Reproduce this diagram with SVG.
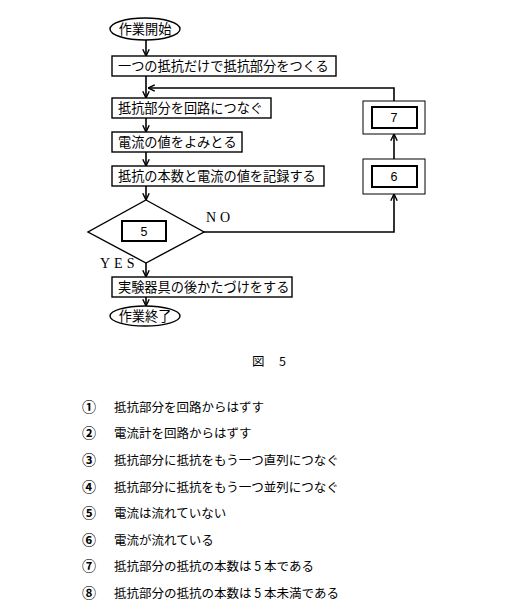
<svg xmlns="http://www.w3.org/2000/svg" width="520" height="613" viewBox="0 0 520 613">
<defs>
<marker id="arr" viewBox="0 0 10 10" refX="9.5" refY="5" markerWidth="8" markerHeight="8" markerUnits="userSpaceOnUse" orient="auto">
<path d="M1,1 L9.5,5 L1,9" fill="none" stroke="#000" stroke-width="1.8"/>
</marker>
</defs>
<style>
.box{fill:#fff;stroke:#000;stroke-width:1.4}
.outer{fill:#fff;stroke:#000;stroke-width:1}
.inner{fill:#fff;stroke:#000;stroke-width:2}
.ln{fill:none;stroke:#000;stroke-width:1.6}
.jp{font-family:"Noto Sans CJK JP","Noto Sans",sans-serif;font-size:13.2px;fill:#000}
.num{font-family:"Liberation Sans",Arial,sans-serif;font-size:12.5px;fill:#000;text-anchor:middle}
.lbl{font-family:"Liberation Serif","Times New Roman",serif;font-size:14px;fill:#000;letter-spacing:4px}
.li{font-family:"Noto Sans CJK JP","Noto Sans",sans-serif;font-size:12.5px;fill:#000}
.cn{font-family:"Noto Sans CJK JP","Noto Sans",sans-serif;font-size:14px;font-weight:bold;fill:#000}
</style>
<rect width="520" height="613" fill="#fff"/>
<g id="connectors">
<line class="ln" x1="146" y1="40" x2="146" y2="56" marker-end="url(#arr)"/>
<line class="ln" x1="146" y1="76" x2="146" y2="98" marker-end="url(#arr)"/>
<polyline class="ln" points="394,101 394,88 148,88" marker-end="url(#arr)"/>
<line class="ln" x1="146" y1="118" x2="146" y2="132" marker-end="url(#arr)"/>
<line class="ln" x1="146" y1="152" x2="146" y2="166" marker-end="url(#arr)"/>
<line class="ln" x1="146" y1="186" x2="146" y2="200" marker-end="url(#arr)"/>
<polyline class="ln" points="204,232 394,232 394,194" marker-end="url(#arr)"/>
<line class="ln" x1="394" y1="159" x2="394" y2="134" marker-end="url(#arr)"/>
<line class="ln" x1="146" y1="263" x2="146" y2="277" marker-end="url(#arr)"/>
<line class="ln" x1="146" y1="297" x2="146" y2="306" marker-end="url(#arr)"/>
</g>
<g id="start">
<ellipse cx="145" cy="29" rx="35" ry="11" class="box"/>
<text x="145" y="34" class="jp" text-anchor="middle">作業開始</text>
</g>
<g id="step1">
<rect x="112" y="56" width="224" height="20" class="box"/>
<text x="118" y="71" class="jp">一つの抵抗だけで抵抗部分をつくる</text>
</g>
<g id="step2">
<rect x="112" y="98" width="159" height="20" class="box"/>
<text x="118" y="113" class="jp">抵抗部分を回路につなぐ</text>
</g>
<g id="step3">
<rect x="112" y="132" width="130" height="20" class="box"/>
<text x="118" y="147" class="jp">電流の値をよみとる</text>
</g>
<g id="step4">
<rect x="112" y="166" width="212" height="20" class="box"/>
<text x="118" y="181" class="jp">抵抗の本数と電流の値を記録する</text>
</g>
<g id="decision">
<polygon points="146,200 204,232 146,263 88,232" class="box"/>
<rect x="122" y="221" width="44" height="20" class="inner"/>
<text x="144" y="236" class="num">5</text>
<text x="206" y="222" class="lbl">NO</text>
<text x="100" y="268" class="lbl">YES</text>
</g>
<g id="box6">
<rect x="363" y="159" width="62" height="35" class="outer"/>
<rect x="372" y="166" width="45" height="21" class="inner"/>
<text x="394" y="181" class="num">6</text>
</g>
<g id="box7">
<rect x="363" y="101" width="62" height="33" class="outer"/>
<rect x="372" y="107" width="45" height="21" class="inner"/>
<text x="394" y="122" class="num">7</text>
</g>
<g id="step5">
<rect x="112" y="277" width="180" height="20" class="box"/>
<text x="118" y="292" class="jp">実験器具の後かたづけをする</text>
</g>
<g id="end">
<ellipse cx="145" cy="316" rx="35" ry="10" class="box"/>
<text x="145" y="321" class="jp" text-anchor="middle">作業終了</text>
</g>
<g id="caption">
<text x="252" y="366" class="li" font-size="12">図</text>
<text x="279" y="366" class="li" font-size="12">5</text>
</g>
<g id="list">
<text x="82" y="412" class="cn">①</text><text x="114" y="412" class="li">抵抗部分を回路からはずす</text>
<text x="82" y="438" class="cn">②</text><text x="114" y="438" class="li">電流計を回路からはずす</text>
<text x="82" y="465" class="cn">③</text><text x="114" y="465" class="li">抵抗部分に抵抗をもう一つ直列につなぐ</text>
<text x="82" y="492" class="cn">④</text><text x="114" y="492" class="li">抵抗部分に抵抗をもう一つ並列につなぐ</text>
<text x="82" y="518" class="cn">⑤</text><text x="114" y="518" class="li">電流は流れていない</text>
<text x="82" y="545" class="cn">⑥</text><text x="114" y="545" class="li">電流が流れている</text>
<text x="82" y="571" class="cn">⑦</text><text x="114" y="571" class="li">抵抗部分の抵抗の本数は 5 本である</text>
<text x="82" y="598" class="cn">⑧</text><text x="114" y="598" class="li">抵抗部分の抵抗の本数は 5 本未満である</text>
</g>
</svg>
